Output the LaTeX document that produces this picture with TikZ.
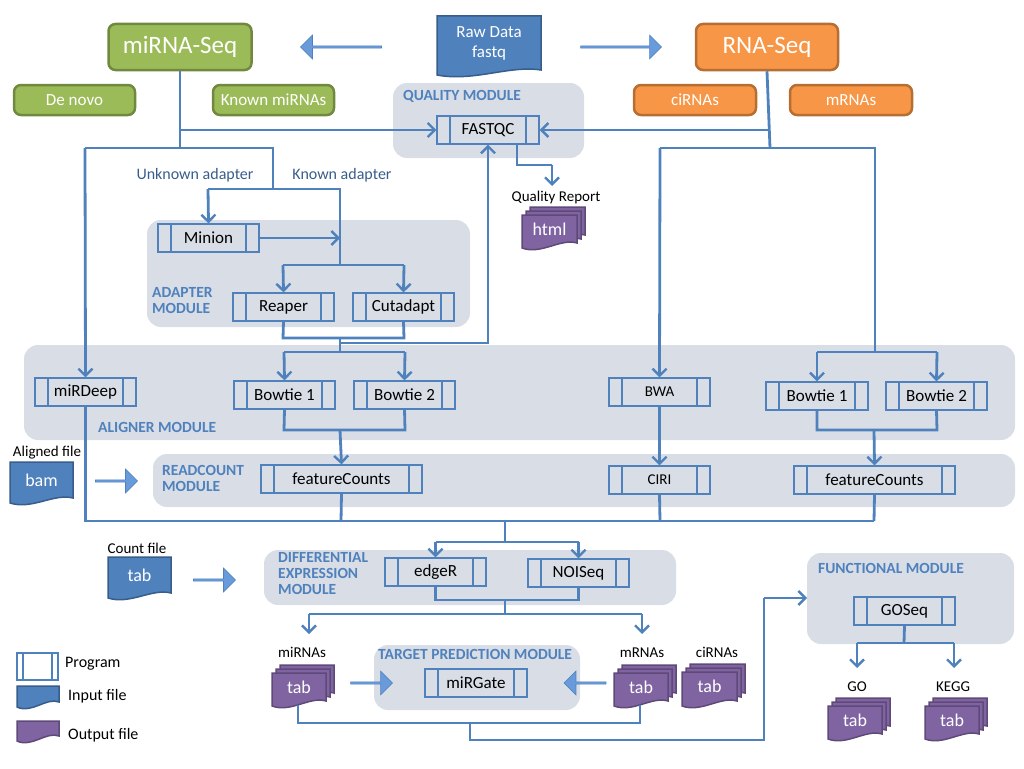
\documentclass[tikz,border=0pt]{standalone}
\usepackage{fontspec}
\setmainfont{Carlito}
\usetikzlibrary{arrows.meta,shapes.arrows}
\definecolor{lb}{RGB}{79,129,189}
\definecolor{modf}{RGB}{217,222,230}
\definecolor{gf}{RGB}{155,187,89}
\definecolor{gd}{RGB}{113,137,63}
\definecolor{of}{RGB}{247,150,70}
\definecolor{od}{RGB}{182,110,50}
\definecolor{df}{RGB}{79,129,189}
\definecolor{dd}{RGB}{56,93,138}
\definecolor{pf}{RGB}{128,100,162}
\definecolor{pd}{RGB}{94,73,120}
\definecolor{af}{RGB}{105,155,218}
\tikzset{
 line/.style={draw=lb,line width=2.8pt},
 conn/.style={line,-{Straight Barb[length=7pt,width=14pt,line width=2.4pt]}},
 modbg/.style={fill=modf,rounded corners=14pt,draw=none},
 modlbl/.style={text=lb,font=\fontsize{15.5}{16}\selectfont\bfseries,align=left,anchor=north west,inner sep=0},
 progbase/.style={draw=lb,fill=modf,line width=1.2pt,inner sep=0,minimum height=28pt,font=\fontsize{17}{17}\selectfont},
 prog/.style={progbase,
   path picture={\draw[lb,line width=1.2pt] ([xshift=13pt]path picture bounding box.north west)--([xshift=13pt]path picture bounding box.south west);
   \draw[lb,line width=1.2pt] ([xshift=-13pt]path picture bounding box.north east)--([xshift=-13pt]path picture bounding box.south east);}},
 legprog/.style={progbase,fill=white,
   path picture={\draw[lb,line width=1.2pt] ([xshift=6pt]path picture bounding box.north west)--([xshift=6pt]path picture bounding box.south west);
   \draw[lb,line width=1.2pt] ([xshift=-6pt]path picture bounding box.north east)--([xshift=-6pt]path picture bounding box.south east);}},
 seqg/.style={fill=gf,draw=gd,line width=2.5pt,rounded corners=7pt,text=white,inner sep=0},
 seqo/.style={fill=of,draw=od,line width=2.5pt,rounded corners=7pt,text=white,inner sep=0},
 indoc/.style={fill=df,draw=dd,line width=1.5pt},
 outdoc/.style={fill=pf,draw=pd,line width=1.5pt},
 dtext/.style={text=white,font=\fontsize{18}{18}\selectfont,inner sep=0},
 small/.style={font=\fontsize{15}{15}\selectfont,inner sep=0},
 barrow/.style={single arrow,fill=af,draw=lb,line width=0.6pt,minimum width=24pt,single arrow head extend=3pt,single arrow head indent=0pt,inner sep=0,single arrow tip angle=90},
}
\newcommand\docp[5]{% style x1 y1 x2 y2
 \draw[#1] (#2,#3) -- (#4,#3) -- (#4,{#5-6}) .. controls ({#4-0.3*(#4-#2)},{#5-11}) and ({#2+0.35*(#4-#2)},{#5+6}) .. (#2,{#5-1}) -- cycle;}
\newcommand\indoc[6]{% name x1 y1 x2 y2 text
 \docp{indoc}{#2}{#3}{#4}{#5}
 \node[dtext] (#1) at ({(#2+#4)/2},{(#3+#5)/2-3}) {#6};}
\newcommand\stack[6]{% name x1 y1 x2 y2 text
 \docp{outdoc}{#2+8}{#3}{#4}{#5-8}
 \docp{outdoc}{#2+4}{#3+4}{#4-4}{#5-4}
 \docp{outdoc}{#2}{#3+8}{#4-8}{#5}
 \node[dtext] (#1) at ({(#2+#4-8)/2},{(#3+8+#5)/2-3}) {#6};}
\newcommand\prg[5]{% name x1 x2 cy text
 \node[prog,minimum width={(#3-#2)*1pt}] (#1) at ({(#2+#3)/2},#4) {#5};}
\begin{document}
\begin{tikzpicture}[x=1pt,y=-1pt]
\useasboundingbox (0,0) rectangle (1024,768);
% module backgrounds
\fill[modbg] (393,83) rectangle (584,158);
\fill[modbg] (147,220) rectangle (470,327);
\fill[modbg] (24,345) rectangle (1015,440);
\fill[modbg] (153,454) rectangle (1015,507);
\fill[modbg] (264,550) rectangle (676,605);
\fill[modbg] (374,645) rectangle (580,710);
\fill[modbg] (807,553) rectangle (1014,644);
\node[modlbl] (lq) at (403,90) {QUALITY MODULE};
\node[modlbl] (la) at (152,287) {ADAPTER\\MODULE};
\node[modlbl] (lal) at (98,422) {ALIGNER MODULE};
\node[modlbl] (lr) at (162,465) {READCOUNT\\MODULE};
\node[modlbl] (ld) at (278,552) {DIFFERENTIAL\\EXPRESSION\\MODULE};
\node[modlbl] (lt) at (378,649) {TARGET PREDICTION MODULE};
\node[modlbl] (lf) at (818,563) {FUNCTIONAL MODULE};
% top
\node[seqg,minimum width=143pt,minimum height=46pt,font=\fontsize{25}{25}\selectfont] (miseq) at (180,47) {miRNA-Seq};
\node[seqo,minimum width=142pt,minimum height=46pt,font=\fontsize{25}{25}\selectfont] (rnaseq) at (767,47) {RNA-Seq};
\node[seqg,minimum width=121pt,minimum height=30pt,font=\fontsize{17}{17}\selectfont] (denovo) at (74.5,100) {De novo};
\node[seqg,minimum width=121pt,minimum height=30pt,font=\fontsize{17}{17}\selectfont] (known) at (273.5,100) {Known miRNAs};
\node[seqo,minimum width=122pt,minimum height=30pt,font=\fontsize{17}{17}\selectfont] (cirna) at (695,100) {ciRNAs};
\node[seqo,minimum width=122pt,minimum height=30pt,font=\fontsize{17}{17}\selectfont] (mrna) at (851,100) {mRNAs};
\docp{indoc}{437}{16}{541}{76}
\node[dtext,align=center,font=\fontsize{17}{20}\selectfont] (raw) at (489,43) {Raw Data\\fastq};
\node[barrow,minimum height=81pt,shape border rotate=180] (ar1) at (341.5,47) {};
\node[barrow,minimum height=81pt] (ar2) at (620.5,47) {};
% programs
\prg{fastqc}{437}{539}{130}{FASTQC}
\prg{minion}{158}{259}{238}{Minion}
\prg{reaper}{233}{334}{307}{Reaper}
\prg{cutadapt}{353}{454}{307}{Cutadapt}
\prg{mirdeep}{35}{136}{392}{miRDeep}
\prg{bt1}{234}{335}{395}{Bowtie 1}
\prg{bt2}{354}{455}{395}{Bowtie 2}
\node[prog,minimum width=101pt,font=\fontsize{15}{15}\selectfont] (bwa) at (659.5,392) {BWA};
\prg{bt3}{766}{868}{396}{Bowtie 1}
\prg{bt4}{886}{987}{396}{Bowtie 2}
\prg{fc1}{261}{422}{479}{featureCounts}
\node[prog,minimum width=101pt,font=\fontsize{15}{15}\selectfont] (ciri) at (659.5,480) {CIRI};
\prg{fc2}{794}{955}{480}{featureCounts}
\prg{edger}{385}{486}{572}{edgeR}
\prg{noiseq}{528}{629}{573}{NOISeq}
\prg{mirgate}{425}{527}{683}{miRGate}
\prg{goseq}{854}{955}{611}{GOSeq}
% files
\node[small] (qr) at (556,197) {Quality Report};
\stack{html}{522}{207}{585}{249}{html}
\node[small] (alf) at (47,453) {Aligned file};
\indoc{bam}{10}{462}{73}{504}{bam}
\node[barrow,minimum height=42pt] (ar3) at (116,481) {};
\node[small] (cf) at (137,548) {Count file};
\indoc{tabin}{108}{557}{171}{599}{tab}
\node[barrow,minimum height=42pt] (ar4) at (214,580) {};
\node[small] (lmi) at (302,652) {miRNAs};
\stack{tmi}{272}{665}{334}{707}{tab}
\node[small] (lmr) at (642,653) {mRNAs};
\stack{tmr}{614}{665}{676}{707}{tab}
\node[small] (lci) at (717,652) {ciRNAs};
\stack{tci}{682}{664}{745}{707}{tab}
\node[barrow,minimum height=42pt] (ar5) at (371,683) {};
\node[barrow,minimum height=42pt,shape border rotate=180] (ar6) at (585.5,683) {};
\node[small] (lgo) at (857,687) {GO};
\stack{tgo}{828}{698}{890}{740}{tab}
\node[small] (lkegg) at (953,687) {KEGG};
\stack{tkegg}{925}{698}{987}{740}{tab}
% legend
\node[legprog,minimum width=41pt,minimum height=27pt] (lgp) at (37.5,666.5) {};
\node[small,anchor=west,font=\fontsize{16}{16}\selectfont] (lgpt) at (65,664) {Program};
\docp{indoc}{17}{686}{59}{708}
\node[small,anchor=west,font=\fontsize{16}{16}\selectfont] (lgit) at (68,696) {Input file};
\docp{outdoc}{17}{721}{59}{742}
\node[small,anchor=west,font=\fontsize{16}{16}\selectfont] (lgot) at (68,735) {Output file};
% labels
\node[small,text=dd,font=\fontsize{16}{16}\selectfont] (unk) at (195,175) {Unknown adapter};
\node[small,text=dd,font=\fontsize{16}{16}\selectfont] (kad) at (342,175) {Known adapter};
% connectors miRNA side
\draw[line] (miseq.south) -- (180,148);
\draw[conn] (fastqc.west -| miseq.south) -- (fastqc.west);
\draw[line] (85,148) -- (273,148) -- (273,189);
\draw[conn] (85,148) -- (mirdeep.north);
\draw[line] (208,189) -- (340,189) -- (340,265);
\draw[conn] (208,189) -- (minion.north);
\draw[conn] (minion.east) -- (minion.east -| 340,0);
\draw[line] (283,265) -- (404,265);
\draw[conn] (283,265) -- (reaper.north);
\draw[conn] (404,265) -- (cutadapt.north);
\draw[line] (reaper.south) -- (283,338) -- (404,338) -- (cutadapt.south);
\draw[line] (340,338) -- (340,352);
\draw[line] (284,352) -- (405,352);
\draw[conn] (284,352) -- (bt1.north);
\draw[conn] (405,352) -- (bt2.north);
\draw[conn] (340,343) -| (fastqc.south);
\draw[line] (fastqc.south -| 517,0) |- (552,165);
\draw[conn] (552,165) -- (552,186);
\draw[line] (bt1.south) -- (284,430) -- (405,430) -- (bt2.south);
\draw[conn] (340,430) -- (fc1.north);
\draw[line] (mirdeep.south) |- (874,521);
\draw[line] (fc1.south) -- (341,521);
\draw[line] (ciri.south) -- (660,521);
\draw[line] (fc2.south) -- (874,521);
% RNA side
\draw[line] (rnaseq.south) -- (770,148);
\draw[conn] (fastqc.east -| 770,0) -- (fastqc.east);
\draw[line] (660,148) -- (875,148) -- (875,352);
\draw[conn] (660,148) -- (bwa.north);
\draw[conn] (bwa.south) -- (ciri.north);
\draw[line] (817,352) -- (937,352);
\draw[conn] (817,352) -- (bt3.north);
\draw[conn] (937,352) -- (bt4.north);
\draw[line] (bt3.south) -- (817,430) -- (937,430) -- (bt4.south);
\draw[conn] (874,430) -- (fc2.north);
% DE
\draw[line] (505,521) -- (505,542);
\draw[line] (435.5,542) -- (578.5,542);
\draw[conn] (435.5,542) -- (edger.north);
\draw[conn] (578.5,542) -- (noiseq.north);
\draw[line] (edger.south) -- (435.5,600) -- (578.5,600) -- (noiseq.south);
\draw[line] (505,600) -- (505,614);
\draw[line] (309,614) -- (642,614);
\draw[conn] (309,614) -- (309,634);
\draw[conn] (642,614) -- (642,634);
\draw[line] (298,705) -- (298,723) -- (640,723) -- (640,705);
\draw[line] (470,723) -- (470,740) -- (764,740) -- (764,598);
\draw[conn] (764,598) -- (807,598);
\draw[line] (goseq.south) -- (904,643);
\draw[line] (857,643) -- (954,643);
\draw[conn] (857,643) -- (857,668);
\draw[conn] (954,643) -- (954,668);
\end{tikzpicture}
\end{document}
